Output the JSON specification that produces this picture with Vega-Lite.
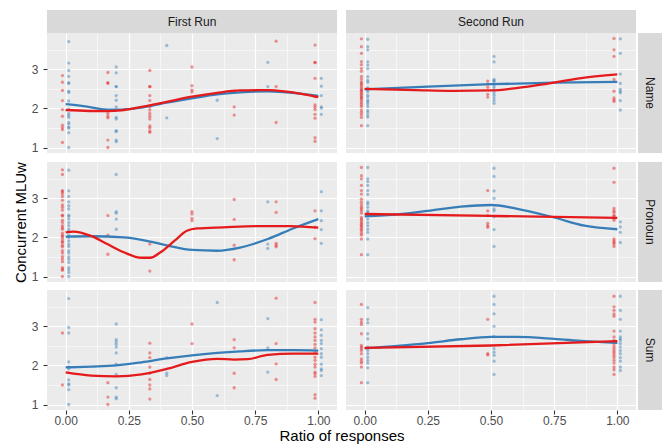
{
"$schema":"https://vega.github.io/schema/vega-lite/v6.json",
"padding":{"left":13,"top":10,"right":0,"bottom":0},
"config":{
"view":{"fill":"#EBEBEB","stroke":null},
"axis":{"gridColor":"#FFFFFF","tickColor":"#333333","labelColor":"#4D4D4D","labelFontSize":12,"labelFont":"Liberation Sans","titleFont":"Liberation Sans","titleFontSize":15,"titleFontWeight":"normal","titleColor":"#000000","tickSize":4,"tickWidth":1.1,"domain":false,"labelOverlap":false,"labelFlush":false},
"axisY":{"labelPadding":5,"titlePadding":3},
"axisX":{"labelPadding":1,"titlePadding":4},
"text":{"font":"Liberation Sans"}
},
"datasets":{
"strips":[{"label":"First Run","pos":"col1"},{"label":"Second Run","pos":"col2"},{"label":"Name","pos":"row1"},{"label":"Pronoun","pos":"row2"},{"label":"Sum","pos":"row3"},{"label":"Ratio of responses","pos":"xtitle"}],
"pts":[
{"run":1,"type":"Name","grp":"A","x":-0.013,"y":2.84},{"run":1,"type":"Name","grp":"A","x":-0.013,"y":2.67},{"run":1,"type":"Name","grp":"A","x":-0.013,"y":2.46},{"run":1,"type":"Name","grp":"A","x":-0.013,"y":2.20},{"run":1,"type":"Name","grp":"A","x":-0.013,"y":1.97},{"run":1,"type":"Name","grp":"A","x":-0.013,"y":1.80},{"run":1,"type":"Name","grp":"A","x":-0.013,"y":1.57},{"run":1,"type":"Name","grp":"A","x":-0.013,"y":1.51},{"run":1,"type":"Name","grp":"A","x":-0.013,"y":1.46},{"run":1,"type":"Name","grp":"A","x":-0.013,"y":1.13},
{"run":1,"type":"Name","grp":"A","x":0.167,"y":2.92},{"run":1,"type":"Name","grp":"A","x":0.167,"y":2.65},{"run":1,"type":"Name","grp":"A","x":0.167,"y":2.65},{"run":1,"type":"Name","grp":"A","x":0.167,"y":1.87},{"run":1,"type":"Name","grp":"A","x":0.167,"y":1.80},{"run":1,"type":"Name","grp":"A","x":0.167,"y":1.76},{"run":1,"type":"Name","grp":"A","x":0.167,"y":1.19},{"run":1,"type":"Name","grp":"A","x":0.167,"y":1.0},
{"run":1,"type":"Name","grp":"A","x":0.333,"y":2.97},{"run":1,"type":"Name","grp":"A","x":0.333,"y":2.56},{"run":1,"type":"Name","grp":"A","x":0.333,"y":2.56},{"run":1,"type":"Name","grp":"A","x":0.333,"y":2.33},{"run":1,"type":"Name","grp":"A","x":0.333,"y":2.20},{"run":1,"type":"Name","grp":"A","x":0.333,"y":2.04},{"run":1,"type":"Name","grp":"A","x":0.333,"y":1.96},{"run":1,"type":"Name","grp":"A","x":0.333,"y":1.87},{"run":1,"type":"Name","grp":"A","x":0.333,"y":1.80},{"run":1,"type":"Name","grp":"A","x":0.333,"y":1.73},{"run":1,"type":"Name","grp":"A","x":0.333,"y":1.55},{"run":1,"type":"Name","grp":"A","x":0.333,"y":1.50},{"run":1,"type":"Name","grp":"A","x":0.333,"y":1.42},{"run":1,"type":"Name","grp":"A","x":0.333,"y":1.39},
{"run":1,"type":"Name","grp":"A","x":0.5,"y":3.06},{"run":1,"type":"Name","grp":"A","x":0.5,"y":2.58},{"run":1,"type":"Name","grp":"A","x":0.5,"y":2.47},{"run":1,"type":"Name","grp":"A","x":0.5,"y":2.42},
{"run":1,"type":"Name","grp":"A","x":0.667,"y":2.44},{"run":1,"type":"Name","grp":"A","x":0.667,"y":2.04},{"run":1,"type":"Name","grp":"A","x":0.667,"y":1.83},
{"run":1,"type":"Name","grp":"A","x":0.833,"y":3.72},{"run":1,"type":"Name","grp":"A","x":0.833,"y":2.56},{"run":1,"type":"Name","grp":"A","x":0.833,"y":1.64},
{"run":1,"type":"Name","grp":"A","x":0.987,"y":3.62},{"run":1,"type":"Name","grp":"A","x":0.987,"y":3.18},{"run":1,"type":"Name","grp":"A","x":0.987,"y":3.17},{"run":1,"type":"Name","grp":"A","x":0.987,"y":2.77},{"run":1,"type":"Name","grp":"A","x":0.987,"y":2.30},{"run":1,"type":"Name","grp":"A","x":0.987,"y":2.09},{"run":1,"type":"Name","grp":"A","x":0.987,"y":2.03},{"run":1,"type":"Name","grp":"A","x":0.987,"y":1.97},{"run":1,"type":"Name","grp":"A","x":0.987,"y":1.85},{"run":1,"type":"Name","grp":"A","x":0.987,"y":1.75},{"run":1,"type":"Name","grp":"A","x":0.987,"y":1.25},{"run":1,"type":"Name","grp":"A","x":0.987,"y":1.16},
{"run":1,"type":"Name","grp":"B","x":0.012,"y":3.71},{"run":1,"type":"Name","grp":"B","x":0.012,"y":3.16},{"run":1,"type":"Name","grp":"B","x":0.012,"y":2.97},{"run":1,"type":"Name","grp":"B","x":0.012,"y":2.82},{"run":1,"type":"Name","grp":"B","x":0.012,"y":2.66},{"run":1,"type":"Name","grp":"B","x":0.012,"y":2.64},{"run":1,"type":"Name","grp":"B","x":0.012,"y":2.44},{"run":1,"type":"Name","grp":"B","x":0.012,"y":2.41},{"run":1,"type":"Name","grp":"B","x":0.012,"y":2.19},{"run":1,"type":"Name","grp":"B","x":0.012,"y":1.98},{"run":1,"type":"Name","grp":"B","x":0.012,"y":1.87},{"run":1,"type":"Name","grp":"B","x":0.012,"y":1.82},{"run":1,"type":"Name","grp":"B","x":0.012,"y":1.77},{"run":1,"type":"Name","grp":"B","x":0.012,"y":1.64},{"run":1,"type":"Name","grp":"B","x":0.012,"y":1.60},{"run":1,"type":"Name","grp":"B","x":0.012,"y":1.52},{"run":1,"type":"Name","grp":"B","x":0.012,"y":1.50},{"run":1,"type":"Name","grp":"B","x":0.012,"y":1.38},{"run":1,"type":"Name","grp":"B","x":0.012,"y":1.0},
{"run":1,"type":"Name","grp":"B","x":0.2,"y":3.06},{"run":1,"type":"Name","grp":"B","x":0.2,"y":2.91},{"run":1,"type":"Name","grp":"B","x":0.2,"y":2.56},{"run":1,"type":"Name","grp":"B","x":0.2,"y":2.56},{"run":1,"type":"Name","grp":"B","x":0.2,"y":2.33},{"run":1,"type":"Name","grp":"B","x":0.2,"y":2.21},{"run":1,"type":"Name","grp":"B","x":0.2,"y":2.04},{"run":1,"type":"Name","grp":"B","x":0.2,"y":1.77},{"run":1,"type":"Name","grp":"B","x":0.2,"y":1.73},{"run":1,"type":"Name","grp":"B","x":0.2,"y":1.43},{"run":1,"type":"Name","grp":"B","x":0.2,"y":1.41},{"run":1,"type":"Name","grp":"B","x":0.2,"y":1.19},{"run":1,"type":"Name","grp":"B","x":0.2,"y":1.15},
{"run":1,"type":"Name","grp":"B","x":0.4,"y":3.61},{"run":1,"type":"Name","grp":"B","x":0.4,"y":1.76},
{"run":1,"type":"Name","grp":"B","x":0.6,"y":2.21},{"run":1,"type":"Name","grp":"B","x":0.6,"y":1.23},
{"run":1,"type":"Name","grp":"B","x":0.8,"y":3.18},{"run":1,"type":"Name","grp":"B","x":0.8,"y":2.56},
{"run":1,"type":"Name","grp":"B","x":1.012,"y":2.77},{"run":1,"type":"Name","grp":"B","x":1.012,"y":2.57},{"run":1,"type":"Name","grp":"B","x":1.012,"y":2.33},{"run":1,"type":"Name","grp":"B","x":1.012,"y":2.04},{"run":1,"type":"Name","grp":"B","x":1.012,"y":2.01},{"run":1,"type":"Name","grp":"B","x":1.012,"y":1.85},

{"run":2,"type":"Name","grp":"A","x":-0.013,"y":3.78},{"run":2,"type":"Name","grp":"A","x":-0.013,"y":3.58},{"run":2,"type":"Name","grp":"A","x":-0.013,"y":3.41},{"run":2,"type":"Name","grp":"A","x":-0.013,"y":3.20},{"run":2,"type":"Name","grp":"A","x":-0.013,"y":3.12},{"run":2,"type":"Name","grp":"A","x":-0.013,"y":3.02},{"run":2,"type":"Name","grp":"A","x":-0.013,"y":2.95},{"run":2,"type":"Name","grp":"A","x":-0.013,"y":2.82},{"run":2,"type":"Name","grp":"A","x":-0.013,"y":2.75},{"run":2,"type":"Name","grp":"A","x":-0.013,"y":2.68},{"run":2,"type":"Name","grp":"A","x":-0.013,"y":2.64},{"run":2,"type":"Name","grp":"A","x":-0.013,"y":2.60},{"run":2,"type":"Name","grp":"A","x":-0.013,"y":2.55},{"run":2,"type":"Name","grp":"A","x":-0.013,"y":2.50},{"run":2,"type":"Name","grp":"A","x":-0.013,"y":2.47},{"run":2,"type":"Name","grp":"A","x":-0.013,"y":2.44},{"run":2,"type":"Name","grp":"A","x":-0.013,"y":2.40},{"run":2,"type":"Name","grp":"A","x":-0.013,"y":2.36},{"run":2,"type":"Name","grp":"A","x":-0.013,"y":2.32},{"run":2,"type":"Name","grp":"A","x":-0.013,"y":2.28},{"run":2,"type":"Name","grp":"A","x":-0.013,"y":2.25},{"run":2,"type":"Name","grp":"A","x":-0.013,"y":2.20},{"run":2,"type":"Name","grp":"A","x":-0.013,"y":2.15},{"run":2,"type":"Name","grp":"A","x":-0.013,"y":2.10},{"run":2,"type":"Name","grp":"A","x":-0.013,"y":2.05},{"run":2,"type":"Name","grp":"A","x":-0.013,"y":1.96},{"run":2,"type":"Name","grp":"A","x":-0.013,"y":1.90},{"run":2,"type":"Name","grp":"A","x":-0.013,"y":1.84},{"run":2,"type":"Name","grp":"A","x":-0.013,"y":1.77},{"run":2,"type":"Name","grp":"A","x":-0.013,"y":1.56},
{"run":2,"type":"Name","grp":"A","x":0.487,"y":2.70},{"run":2,"type":"Name","grp":"A","x":0.487,"y":2.62},{"run":2,"type":"Name","grp":"A","x":0.487,"y":2.54},{"run":2,"type":"Name","grp":"A","x":0.487,"y":2.36},{"run":2,"type":"Name","grp":"A","x":0.487,"y":2.29},
{"run":2,"type":"Name","grp":"A","x":0.987,"y":3.79},{"run":2,"type":"Name","grp":"A","x":0.987,"y":3.50},{"run":2,"type":"Name","grp":"A","x":0.987,"y":3.33},{"run":2,"type":"Name","grp":"A","x":0.987,"y":2.74},{"run":2,"type":"Name","grp":"A","x":0.987,"y":2.44},{"run":2,"type":"Name","grp":"A","x":0.987,"y":2.27},{"run":2,"type":"Name","grp":"A","x":0.987,"y":2.22},{"run":2,"type":"Name","grp":"A","x":0.987,"y":2.18},
{"run":2,"type":"Name","grp":"B","x":0.012,"y":3.77},{"run":2,"type":"Name","grp":"B","x":0.012,"y":3.58},{"run":2,"type":"Name","grp":"B","x":0.012,"y":3.50},{"run":2,"type":"Name","grp":"B","x":0.012,"y":3.19},{"run":2,"type":"Name","grp":"B","x":0.012,"y":3.11},{"run":2,"type":"Name","grp":"B","x":0.012,"y":3.02},{"run":2,"type":"Name","grp":"B","x":0.012,"y":2.81},{"run":2,"type":"Name","grp":"B","x":0.012,"y":2.72},{"run":2,"type":"Name","grp":"B","x":0.012,"y":2.67},{"run":2,"type":"Name","grp":"B","x":0.012,"y":2.53},{"run":2,"type":"Name","grp":"B","x":0.012,"y":2.48},{"run":2,"type":"Name","grp":"B","x":0.012,"y":2.43},{"run":2,"type":"Name","grp":"B","x":0.012,"y":2.34},{"run":2,"type":"Name","grp":"B","x":0.012,"y":2.29},{"run":2,"type":"Name","grp":"B","x":0.012,"y":2.21},{"run":2,"type":"Name","grp":"B","x":0.012,"y":2.17},{"run":2,"type":"Name","grp":"B","x":0.012,"y":2.12},{"run":2,"type":"Name","grp":"B","x":0.012,"y":2.05},{"run":2,"type":"Name","grp":"B","x":0.012,"y":1.95},{"run":2,"type":"Name","grp":"B","x":0.012,"y":1.90},{"run":2,"type":"Name","grp":"B","x":0.012,"y":1.83},{"run":2,"type":"Name","grp":"B","x":0.012,"y":1.78},{"run":2,"type":"Name","grp":"B","x":0.012,"y":1.56},
{"run":2,"type":"Name","grp":"B","x":0.512,"y":3.33},{"run":2,"type":"Name","grp":"B","x":0.512,"y":3.19},{"run":2,"type":"Name","grp":"B","x":0.512,"y":2.74},{"run":2,"type":"Name","grp":"B","x":0.512,"y":2.71},{"run":2,"type":"Name","grp":"B","x":0.512,"y":2.68},{"run":2,"type":"Name","grp":"B","x":0.512,"y":2.60},{"run":2,"type":"Name","grp":"B","x":0.512,"y":2.54},{"run":2,"type":"Name","grp":"B","x":0.512,"y":2.47},{"run":2,"type":"Name","grp":"B","x":0.512,"y":2.40},{"run":2,"type":"Name","grp":"B","x":0.512,"y":2.34},{"run":2,"type":"Name","grp":"B","x":0.512,"y":2.27},{"run":2,"type":"Name","grp":"B","x":0.512,"y":2.20},{"run":2,"type":"Name","grp":"B","x":0.512,"y":2.13},
{"run":2,"type":"Name","grp":"B","x":1.012,"y":3.78},{"run":2,"type":"Name","grp":"B","x":1.012,"y":3.41},{"run":2,"type":"Name","grp":"B","x":1.012,"y":2.88},{"run":2,"type":"Name","grp":"B","x":1.012,"y":2.64},{"run":2,"type":"Name","grp":"B","x":1.012,"y":2.49},{"run":2,"type":"Name","grp":"B","x":1.012,"y":2.44},{"run":2,"type":"Name","grp":"B","x":1.012,"y":2.40},{"run":2,"type":"Name","grp":"B","x":1.012,"y":2.20},{"run":2,"type":"Name","grp":"B","x":1.012,"y":1.96},

{"run":1,"type":"Pronoun","grp":"A","x":-0.013,"y":3.73},{"run":1,"type":"Pronoun","grp":"A","x":-0.013,"y":3.61},{"run":1,"type":"Pronoun","grp":"A","x":-0.013,"y":3.20},{"run":1,"type":"Pronoun","grp":"A","x":-0.013,"y":3.17},{"run":1,"type":"Pronoun","grp":"A","x":-0.013,"y":3.12},{"run":1,"type":"Pronoun","grp":"A","x":-0.013,"y":3.05},{"run":1,"type":"Pronoun","grp":"A","x":-0.013,"y":2.95},{"run":1,"type":"Pronoun","grp":"A","x":-0.013,"y":2.83},{"run":1,"type":"Pronoun","grp":"A","x":-0.013,"y":2.77},{"run":1,"type":"Pronoun","grp":"A","x":-0.013,"y":2.70},{"run":1,"type":"Pronoun","grp":"A","x":-0.013,"y":2.57},{"run":1,"type":"Pronoun","grp":"A","x":-0.013,"y":2.55},{"run":1,"type":"Pronoun","grp":"A","x":-0.013,"y":2.44},{"run":1,"type":"Pronoun","grp":"A","x":-0.013,"y":2.38},{"run":1,"type":"Pronoun","grp":"A","x":-0.013,"y":2.30},{"run":1,"type":"Pronoun","grp":"A","x":-0.013,"y":2.25},{"run":1,"type":"Pronoun","grp":"A","x":-0.013,"y":2.21},{"run":1,"type":"Pronoun","grp":"A","x":-0.013,"y":2.11},{"run":1,"type":"Pronoun","grp":"A","x":-0.013,"y":2.05},{"run":1,"type":"Pronoun","grp":"A","x":-0.013,"y":2.02},{"run":1,"type":"Pronoun","grp":"A","x":-0.013,"y":1.96},{"run":1,"type":"Pronoun","grp":"A","x":-0.013,"y":1.90},{"run":1,"type":"Pronoun","grp":"A","x":-0.013,"y":1.87},{"run":1,"type":"Pronoun","grp":"A","x":-0.013,"y":1.80},{"run":1,"type":"Pronoun","grp":"A","x":-0.013,"y":1.76},{"run":1,"type":"Pronoun","grp":"A","x":-0.013,"y":1.66},{"run":1,"type":"Pronoun","grp":"A","x":-0.013,"y":1.60},{"run":1,"type":"Pronoun","grp":"A","x":-0.013,"y":1.51},{"run":1,"type":"Pronoun","grp":"A","x":-0.013,"y":1.45},{"run":1,"type":"Pronoun","grp":"A","x":-0.013,"y":1.38},{"run":1,"type":"Pronoun","grp":"A","x":-0.013,"y":1.23},{"run":1,"type":"Pronoun","grp":"A","x":-0.013,"y":1.19},{"run":1,"type":"Pronoun","grp":"A","x":-0.013,"y":1.16},{"run":1,"type":"Pronoun","grp":"A","x":-0.013,"y":1.0},
{"run":1,"type":"Pronoun","grp":"A","x":0.167,"y":2.56},{"run":1,"type":"Pronoun","grp":"A","x":0.167,"y":2.06},{"run":1,"type":"Pronoun","grp":"A","x":0.167,"y":1.57},
{"run":1,"type":"Pronoun","grp":"A","x":0.333,"y":1.83},{"run":1,"type":"Pronoun","grp":"A","x":0.333,"y":1.14},
{"run":1,"type":"Pronoun","grp":"A","x":0.5,"y":2.66},{"run":1,"type":"Pronoun","grp":"A","x":0.5,"y":2.60},{"run":1,"type":"Pronoun","grp":"A","x":0.5,"y":2.49},{"run":1,"type":"Pronoun","grp":"A","x":0.5,"y":2.43},
{"run":1,"type":"Pronoun","grp":"A","x":0.667,"y":2.97},{"run":1,"type":"Pronoun","grp":"A","x":0.667,"y":2.46},{"run":1,"type":"Pronoun","grp":"A","x":0.667,"y":1.80},{"run":1,"type":"Pronoun","grp":"A","x":0.667,"y":1.43},
{"run":1,"type":"Pronoun","grp":"A","x":0.833,"y":2.91},{"run":1,"type":"Pronoun","grp":"A","x":0.833,"y":2.64},{"run":1,"type":"Pronoun","grp":"A","x":0.833,"y":1.85},{"run":1,"type":"Pronoun","grp":"A","x":0.833,"y":1.80},{"run":1,"type":"Pronoun","grp":"A","x":0.833,"y":1.76},
{"run":1,"type":"Pronoun","grp":"A","x":0.987,"y":2.68},{"run":1,"type":"Pronoun","grp":"A","x":0.987,"y":2.26},{"run":1,"type":"Pronoun","grp":"A","x":0.987,"y":1.97},
{"run":1,"type":"Pronoun","grp":"B","x":0.012,"y":3.72},{"run":1,"type":"Pronoun","grp":"B","x":0.012,"y":3.19},{"run":1,"type":"Pronoun","grp":"B","x":0.012,"y":3.05},{"run":1,"type":"Pronoun","grp":"B","x":0.012,"y":2.91},{"run":1,"type":"Pronoun","grp":"B","x":0.012,"y":2.81},{"run":1,"type":"Pronoun","grp":"B","x":0.012,"y":2.73},{"run":1,"type":"Pronoun","grp":"B","x":0.012,"y":2.57},{"run":1,"type":"Pronoun","grp":"B","x":0.012,"y":2.54},{"run":1,"type":"Pronoun","grp":"B","x":0.012,"y":2.47},{"run":1,"type":"Pronoun","grp":"B","x":0.012,"y":2.38},{"run":1,"type":"Pronoun","grp":"B","x":0.012,"y":2.30},{"run":1,"type":"Pronoun","grp":"B","x":0.012,"y":2.21},{"run":1,"type":"Pronoun","grp":"B","x":0.012,"y":2.15},{"run":1,"type":"Pronoun","grp":"B","x":0.012,"y":2.06},{"run":1,"type":"Pronoun","grp":"B","x":0.012,"y":2.0},{"run":1,"type":"Pronoun","grp":"B","x":0.012,"y":1.91},{"run":1,"type":"Pronoun","grp":"B","x":0.012,"y":1.83},{"run":1,"type":"Pronoun","grp":"B","x":0.012,"y":1.77},{"run":1,"type":"Pronoun","grp":"B","x":0.012,"y":1.66},{"run":1,"type":"Pronoun","grp":"B","x":0.012,"y":1.60},{"run":1,"type":"Pronoun","grp":"B","x":0.012,"y":1.50},{"run":1,"type":"Pronoun","grp":"B","x":0.012,"y":1.44},{"run":1,"type":"Pronoun","grp":"B","x":0.012,"y":1.36},{"run":1,"type":"Pronoun","grp":"B","x":0.012,"y":1.23},{"run":1,"type":"Pronoun","grp":"B","x":0.012,"y":1.17},{"run":1,"type":"Pronoun","grp":"B","x":0.012,"y":1.10},{"run":1,"type":"Pronoun","grp":"B","x":0.012,"y":1.0},
{"run":1,"type":"Pronoun","grp":"B","x":0.2,"y":3.61},{"run":1,"type":"Pronoun","grp":"B","x":0.2,"y":2.66},{"run":1,"type":"Pronoun","grp":"B","x":0.2,"y":2.62},{"run":1,"type":"Pronoun","grp":"B","x":0.2,"y":2.47},{"run":1,"type":"Pronoun","grp":"B","x":0.2,"y":2.21},
{"run":1,"type":"Pronoun","grp":"B","x":0.8,"y":2.91},{"run":1,"type":"Pronoun","grp":"B","x":0.8,"y":1.83},{"run":1,"type":"Pronoun","grp":"B","x":0.8,"y":1.72},
{"run":1,"type":"Pronoun","grp":"B","x":1.012,"y":3.17},{"run":1,"type":"Pronoun","grp":"B","x":1.012,"y":2.68},{"run":1,"type":"Pronoun","grp":"B","x":1.012,"y":2.43},{"run":1,"type":"Pronoun","grp":"B","x":1.012,"y":2.20},{"run":1,"type":"Pronoun","grp":"B","x":1.012,"y":1.85},

{"run":2,"type":"Pronoun","grp":"A","x":-0.013,"y":3.79},{"run":2,"type":"Pronoun","grp":"A","x":-0.013,"y":3.58},{"run":2,"type":"Pronoun","grp":"A","x":-0.013,"y":3.50},{"run":2,"type":"Pronoun","grp":"A","x":-0.013,"y":3.33},{"run":2,"type":"Pronoun","grp":"A","x":-0.013,"y":3.20},{"run":2,"type":"Pronoun","grp":"A","x":-0.013,"y":3.11},{"run":2,"type":"Pronoun","grp":"A","x":-0.013,"y":2.98},{"run":2,"type":"Pronoun","grp":"A","x":-0.013,"y":2.90},{"run":2,"type":"Pronoun","grp":"A","x":-0.013,"y":2.83},{"run":2,"type":"Pronoun","grp":"A","x":-0.013,"y":2.77},{"run":2,"type":"Pronoun","grp":"A","x":-0.013,"y":2.73},{"run":2,"type":"Pronoun","grp":"A","x":-0.013,"y":2.68},{"run":2,"type":"Pronoun","grp":"A","x":-0.013,"y":2.62},{"run":2,"type":"Pronoun","grp":"A","x":-0.013,"y":2.51},{"run":2,"type":"Pronoun","grp":"A","x":-0.013,"y":2.47},{"run":2,"type":"Pronoun","grp":"A","x":-0.013,"y":2.43},{"run":2,"type":"Pronoun","grp":"A","x":-0.013,"y":2.38},{"run":2,"type":"Pronoun","grp":"A","x":-0.013,"y":2.34},{"run":2,"type":"Pronoun","grp":"A","x":-0.013,"y":2.30},{"run":2,"type":"Pronoun","grp":"A","x":-0.013,"y":2.26},{"run":2,"type":"Pronoun","grp":"A","x":-0.013,"y":2.21},{"run":2,"type":"Pronoun","grp":"A","x":-0.013,"y":2.17},{"run":2,"type":"Pronoun","grp":"A","x":-0.013,"y":2.11},{"run":2,"type":"Pronoun","grp":"A","x":-0.013,"y":2.06},{"run":2,"type":"Pronoun","grp":"A","x":-0.013,"y":1.96},{"run":2,"type":"Pronoun","grp":"A","x":-0.013,"y":1.56},
{"run":2,"type":"Pronoun","grp":"A","x":0.487,"y":3.20},{"run":2,"type":"Pronoun","grp":"A","x":0.487,"y":2.68},{"run":2,"type":"Pronoun","grp":"A","x":0.487,"y":2.56},{"run":2,"type":"Pronoun","grp":"A","x":0.487,"y":2.36},{"run":2,"type":"Pronoun","grp":"A","x":0.487,"y":2.30},{"run":2,"type":"Pronoun","grp":"A","x":0.487,"y":2.26},
{"run":2,"type":"Pronoun","grp":"A","x":0.987,"y":3.77},{"run":2,"type":"Pronoun","grp":"A","x":0.987,"y":3.41},{"run":2,"type":"Pronoun","grp":"A","x":0.987,"y":2.74},{"run":2,"type":"Pronoun","grp":"A","x":0.987,"y":2.68},{"run":2,"type":"Pronoun","grp":"A","x":0.987,"y":2.64},{"run":2,"type":"Pronoun","grp":"A","x":0.987,"y":2.57},{"run":2,"type":"Pronoun","grp":"A","x":0.987,"y":2.54},{"run":2,"type":"Pronoun","grp":"A","x":0.987,"y":2.49},{"run":2,"type":"Pronoun","grp":"A","x":0.987,"y":2.44},{"run":2,"type":"Pronoun","grp":"A","x":0.987,"y":1.96},{"run":2,"type":"Pronoun","grp":"A","x":0.987,"y":1.91},{"run":2,"type":"Pronoun","grp":"A","x":0.987,"y":1.87},{"run":2,"type":"Pronoun","grp":"A","x":0.987,"y":1.83},{"run":2,"type":"Pronoun","grp":"A","x":0.987,"y":1.77},
{"run":2,"type":"Pronoun","grp":"B","x":0.012,"y":3.79},{"run":2,"type":"Pronoun","grp":"B","x":0.012,"y":3.50},{"run":2,"type":"Pronoun","grp":"B","x":0.012,"y":3.43},{"run":2,"type":"Pronoun","grp":"B","x":0.012,"y":3.33},{"run":2,"type":"Pronoun","grp":"B","x":0.012,"y":3.20},{"run":2,"type":"Pronoun","grp":"B","x":0.012,"y":3.10},{"run":2,"type":"Pronoun","grp":"B","x":0.012,"y":2.90},{"run":2,"type":"Pronoun","grp":"B","x":0.012,"y":2.85},{"run":2,"type":"Pronoun","grp":"B","x":0.012,"y":2.77},{"run":2,"type":"Pronoun","grp":"B","x":0.012,"y":2.68},{"run":2,"type":"Pronoun","grp":"B","x":0.012,"y":2.64},{"run":2,"type":"Pronoun","grp":"B","x":0.012,"y":2.60},{"run":2,"type":"Pronoun","grp":"B","x":0.012,"y":2.56},{"run":2,"type":"Pronoun","grp":"B","x":0.012,"y":2.47},{"run":2,"type":"Pronoun","grp":"B","x":0.012,"y":2.38},{"run":2,"type":"Pronoun","grp":"B","x":0.012,"y":2.30},{"run":2,"type":"Pronoun","grp":"B","x":0.012,"y":2.21},{"run":2,"type":"Pronoun","grp":"B","x":0.012,"y":2.13},{"run":2,"type":"Pronoun","grp":"B","x":0.012,"y":1.96},{"run":2,"type":"Pronoun","grp":"B","x":0.012,"y":1.56},
{"run":2,"type":"Pronoun","grp":"B","x":0.512,"y":3.77},{"run":2,"type":"Pronoun","grp":"B","x":0.512,"y":3.56},{"run":2,"type":"Pronoun","grp":"B","x":0.512,"y":3.19},{"run":2,"type":"Pronoun","grp":"B","x":0.512,"y":3.0},{"run":2,"type":"Pronoun","grp":"B","x":0.512,"y":2.73},{"run":2,"type":"Pronoun","grp":"B","x":0.512,"y":2.68},{"run":2,"type":"Pronoun","grp":"B","x":0.512,"y":2.53},{"run":2,"type":"Pronoun","grp":"B","x":0.512,"y":2.20},{"run":2,"type":"Pronoun","grp":"B","x":0.512,"y":1.77},
{"run":2,"type":"Pronoun","grp":"B","x":1.012,"y":2.40},{"run":2,"type":"Pronoun","grp":"B","x":1.012,"y":2.27},{"run":2,"type":"Pronoun","grp":"B","x":1.012,"y":2.13},{"run":2,"type":"Pronoun","grp":"B","x":1.012,"y":1.87},

{"run":1,"type":"Sum","grp":"A","x":-0.013,"y":2.83},{"run":1,"type":"Sum","grp":"A","x":-0.013,"y":1.50},
{"run":1,"type":"Sum","grp":"A","x":0.167,"y":1.56},{"run":1,"type":"Sum","grp":"A","x":0.167,"y":1.19},{"run":1,"type":"Sum","grp":"A","x":0.167,"y":1.0},
{"run":1,"type":"Sum","grp":"A","x":0.333,"y":2.57},{"run":1,"type":"Sum","grp":"A","x":0.333,"y":2.32},{"run":1,"type":"Sum","grp":"A","x":0.333,"y":2.20},{"run":1,"type":"Sum","grp":"A","x":0.333,"y":1.96},{"run":1,"type":"Sum","grp":"A","x":0.333,"y":1.80},{"run":1,"type":"Sum","grp":"A","x":0.333,"y":1.64},{"run":1,"type":"Sum","grp":"A","x":0.333,"y":1.50},{"run":1,"type":"Sum","grp":"A","x":0.333,"y":1.40},{"run":1,"type":"Sum","grp":"A","x":0.333,"y":1.14},
{"run":1,"type":"Sum","grp":"A","x":0.5,"y":3.06},{"run":1,"type":"Sum","grp":"A","x":0.5,"y":2.56},
{"run":1,"type":"Sum","grp":"A","x":0.667,"y":2.66},{"run":1,"type":"Sum","grp":"A","x":0.667,"y":2.45},{"run":1,"type":"Sum","grp":"A","x":0.667,"y":1.80},{"run":1,"type":"Sum","grp":"A","x":0.667,"y":1.43},
{"run":1,"type":"Sum","grp":"A","x":0.833,"y":3.72},{"run":1,"type":"Sum","grp":"A","x":0.833,"y":2.56},{"run":1,"type":"Sum","grp":"A","x":0.833,"y":2.04},{"run":1,"type":"Sum","grp":"A","x":0.833,"y":1.64},
{"run":1,"type":"Sum","grp":"A","x":0.987,"y":3.61},{"run":1,"type":"Sum","grp":"A","x":0.987,"y":3.18},{"run":1,"type":"Sum","grp":"A","x":0.987,"y":3.11},{"run":1,"type":"Sum","grp":"A","x":0.987,"y":2.94},{"run":1,"type":"Sum","grp":"A","x":0.987,"y":2.83},{"run":1,"type":"Sum","grp":"A","x":0.987,"y":2.73},{"run":1,"type":"Sum","grp":"A","x":0.987,"y":2.64},{"run":1,"type":"Sum","grp":"A","x":0.987,"y":2.54},{"run":1,"type":"Sum","grp":"A","x":0.987,"y":2.45},{"run":1,"type":"Sum","grp":"A","x":0.987,"y":2.33},{"run":1,"type":"Sum","grp":"A","x":0.987,"y":2.21},{"run":1,"type":"Sum","grp":"A","x":0.987,"y":2.13},{"run":1,"type":"Sum","grp":"A","x":0.987,"y":2.03},{"run":1,"type":"Sum","grp":"A","x":0.987,"y":1.96},{"run":1,"type":"Sum","grp":"A","x":0.987,"y":1.83},{"run":1,"type":"Sum","grp":"A","x":0.987,"y":1.79},{"run":1,"type":"Sum","grp":"A","x":0.987,"y":1.72},{"run":1,"type":"Sum","grp":"A","x":0.987,"y":1.25},{"run":1,"type":"Sum","grp":"A","x":0.987,"y":1.16},
{"run":1,"type":"Sum","grp":"B","x":0.012,"y":3.71},{"run":1,"type":"Sum","grp":"B","x":0.012,"y":2.97},{"run":1,"type":"Sum","grp":"B","x":0.012,"y":2.83},{"run":1,"type":"Sum","grp":"B","x":0.012,"y":2.09},{"run":1,"type":"Sum","grp":"B","x":0.012,"y":1.96},{"run":1,"type":"Sum","grp":"B","x":0.012,"y":1.91},{"run":1,"type":"Sum","grp":"B","x":0.012,"y":1.63},{"run":1,"type":"Sum","grp":"B","x":0.012,"y":1.53},{"run":1,"type":"Sum","grp":"B","x":0.012,"y":1.50},{"run":1,"type":"Sum","grp":"B","x":0.012,"y":1.38},{"run":1,"type":"Sum","grp":"B","x":0.012,"y":1.0},
{"run":1,"type":"Sum","grp":"B","x":0.2,"y":3.06},{"run":1,"type":"Sum","grp":"B","x":0.2,"y":2.66},{"run":1,"type":"Sum","grp":"B","x":0.2,"y":2.60},{"run":1,"type":"Sum","grp":"B","x":0.2,"y":2.54},{"run":1,"type":"Sum","grp":"B","x":0.2,"y":2.47},{"run":1,"type":"Sum","grp":"B","x":0.2,"y":2.32},{"run":1,"type":"Sum","grp":"B","x":0.2,"y":2.03},{"run":1,"type":"Sum","grp":"B","x":0.2,"y":1.77},{"run":1,"type":"Sum","grp":"B","x":0.2,"y":1.43},{"run":1,"type":"Sum","grp":"B","x":0.2,"y":1.19},{"run":1,"type":"Sum","grp":"B","x":0.2,"y":1.15},
{"run":1,"type":"Sum","grp":"B","x":0.4,"y":2.20},{"run":1,"type":"Sum","grp":"B","x":0.4,"y":1.80},{"run":1,"type":"Sum","grp":"B","x":0.4,"y":1.74},
{"run":1,"type":"Sum","grp":"B","x":0.6,"y":3.61},{"run":1,"type":"Sum","grp":"B","x":0.6,"y":1.23},
{"run":1,"type":"Sum","grp":"B","x":0.8,"y":3.20},{"run":1,"type":"Sum","grp":"B","x":0.8,"y":2.45},{"run":1,"type":"Sum","grp":"B","x":0.8,"y":1.83},
{"run":1,"type":"Sum","grp":"B","x":1.012,"y":3.17},{"run":1,"type":"Sum","grp":"B","x":1.012,"y":2.91},{"run":1,"type":"Sum","grp":"B","x":1.012,"y":2.77},{"run":1,"type":"Sum","grp":"B","x":1.012,"y":2.64},{"run":1,"type":"Sum","grp":"B","x":1.012,"y":2.56},{"run":1,"type":"Sum","grp":"B","x":1.012,"y":2.43},{"run":1,"type":"Sum","grp":"B","x":1.012,"y":2.30},{"run":1,"type":"Sum","grp":"B","x":1.012,"y":2.21},{"run":1,"type":"Sum","grp":"B","x":1.012,"y":2.03},{"run":1,"type":"Sum","grp":"B","x":1.012,"y":1.91},{"run":1,"type":"Sum","grp":"B","x":1.012,"y":1.87},{"run":1,"type":"Sum","grp":"B","x":1.012,"y":1.74},

{"run":2,"type":"Sum","grp":"A","x":-0.013,"y":3.56},{"run":2,"type":"Sum","grp":"A","x":-0.013,"y":3.18},{"run":2,"type":"Sum","grp":"A","x":-0.013,"y":3.11},{"run":2,"type":"Sum","grp":"A","x":-0.013,"y":3.05},{"run":2,"type":"Sum","grp":"A","x":-0.013,"y":2.81},{"run":2,"type":"Sum","grp":"A","x":-0.013,"y":2.51},{"run":2,"type":"Sum","grp":"A","x":-0.013,"y":2.47},{"run":2,"type":"Sum","grp":"A","x":-0.013,"y":2.43},{"run":2,"type":"Sum","grp":"A","x":-0.013,"y":2.38},{"run":2,"type":"Sum","grp":"A","x":-0.013,"y":2.30},{"run":2,"type":"Sum","grp":"A","x":-0.013,"y":2.17},{"run":2,"type":"Sum","grp":"A","x":-0.013,"y":2.11},{"run":2,"type":"Sum","grp":"A","x":-0.013,"y":2.06},{"run":2,"type":"Sum","grp":"A","x":-0.013,"y":1.96},{"run":2,"type":"Sum","grp":"A","x":-0.013,"y":1.56},
{"run":2,"type":"Sum","grp":"A","x":0.487,"y":3.18},{"run":2,"type":"Sum","grp":"A","x":0.487,"y":2.30},{"run":2,"type":"Sum","grp":"A","x":0.487,"y":2.27},
{"run":2,"type":"Sum","grp":"A","x":0.987,"y":3.77},{"run":2,"type":"Sum","grp":"A","x":0.987,"y":3.50},{"run":2,"type":"Sum","grp":"A","x":0.987,"y":3.41},{"run":2,"type":"Sum","grp":"A","x":0.987,"y":3.32},{"run":2,"type":"Sum","grp":"A","x":0.987,"y":3.26},{"run":2,"type":"Sum","grp":"A","x":0.987,"y":2.88},{"run":2,"type":"Sum","grp":"A","x":0.987,"y":2.73},{"run":2,"type":"Sum","grp":"A","x":0.987,"y":2.64},{"run":2,"type":"Sum","grp":"A","x":0.987,"y":2.60},{"run":2,"type":"Sum","grp":"A","x":0.987,"y":2.56},{"run":2,"type":"Sum","grp":"A","x":0.987,"y":2.49},{"run":2,"type":"Sum","grp":"A","x":0.987,"y":2.43},{"run":2,"type":"Sum","grp":"A","x":0.987,"y":2.37},{"run":2,"type":"Sum","grp":"A","x":0.987,"y":2.32},{"run":2,"type":"Sum","grp":"A","x":0.987,"y":2.26},{"run":2,"type":"Sum","grp":"A","x":0.987,"y":2.20},{"run":2,"type":"Sum","grp":"A","x":0.987,"y":2.13},{"run":2,"type":"Sum","grp":"A","x":0.987,"y":2.06},{"run":2,"type":"Sum","grp":"A","x":0.987,"y":1.96},{"run":2,"type":"Sum","grp":"A","x":0.987,"y":1.89},{"run":2,"type":"Sum","grp":"A","x":0.987,"y":1.77},
{"run":2,"type":"Sum","grp":"B","x":0.012,"y":3.48},{"run":2,"type":"Sum","grp":"B","x":0.012,"y":3.18},{"run":2,"type":"Sum","grp":"B","x":0.012,"y":3.09},{"run":2,"type":"Sum","grp":"B","x":0.012,"y":2.81},{"run":2,"type":"Sum","grp":"B","x":0.012,"y":2.68},{"run":2,"type":"Sum","grp":"B","x":0.012,"y":2.47},{"run":2,"type":"Sum","grp":"B","x":0.012,"y":2.38},{"run":2,"type":"Sum","grp":"B","x":0.012,"y":2.30},{"run":2,"type":"Sum","grp":"B","x":0.012,"y":2.21},{"run":2,"type":"Sum","grp":"B","x":0.012,"y":2.13},{"run":2,"type":"Sum","grp":"B","x":0.012,"y":2.06},{"run":2,"type":"Sum","grp":"B","x":0.012,"y":1.94},{"run":2,"type":"Sum","grp":"B","x":0.012,"y":1.56},
{"run":2,"type":"Sum","grp":"B","x":0.512,"y":3.77},{"run":2,"type":"Sum","grp":"B","x":0.512,"y":3.56},{"run":2,"type":"Sum","grp":"B","x":0.512,"y":3.32},{"run":2,"type":"Sum","grp":"B","x":0.512,"y":3.0},{"run":2,"type":"Sum","grp":"B","x":0.512,"y":2.74},{"run":2,"type":"Sum","grp":"B","x":0.512,"y":2.43},{"run":2,"type":"Sum","grp":"B","x":0.512,"y":2.34},{"run":2,"type":"Sum","grp":"B","x":0.512,"y":2.26},{"run":2,"type":"Sum","grp":"B","x":0.512,"y":2.11},{"run":2,"type":"Sum","grp":"B","x":0.512,"y":1.77},
{"run":2,"type":"Sum","grp":"B","x":1.012,"y":3.77},{"run":2,"type":"Sum","grp":"B","x":1.012,"y":3.41},{"run":2,"type":"Sum","grp":"B","x":1.012,"y":3.18},{"run":2,"type":"Sum","grp":"B","x":1.012,"y":2.88},{"run":2,"type":"Sum","grp":"B","x":1.012,"y":2.73},{"run":2,"type":"Sum","grp":"B","x":1.012,"y":2.68},{"run":2,"type":"Sum","grp":"B","x":1.012,"y":2.64},{"run":2,"type":"Sum","grp":"B","x":1.012,"y":2.56},{"run":2,"type":"Sum","grp":"B","x":1.012,"y":2.47},{"run":2,"type":"Sum","grp":"B","x":1.012,"y":2.38},{"run":2,"type":"Sum","grp":"B","x":1.012,"y":2.30},{"run":2,"type":"Sum","grp":"B","x":1.012,"y":2.20},{"run":2,"type":"Sum","grp":"B","x":1.012,"y":2.11},{"run":2,"type":"Sum","grp":"B","x":1.012,"y":1.96},{"run":2,"type":"Sum","grp":"B","x":1.012,"y":1.87}
],
"fit":[
{"run":1,"type":"Name","grp":"B","x":0,"y":2.11},{"run":1,"type":"Name","grp":"B","x":0.07,"y":2.06},{"run":1,"type":"Name","grp":"B","x":0.165,"y":1.97},{"run":1,"type":"Name","grp":"B","x":0.22,"y":1.97},{"run":1,"type":"Name","grp":"B","x":0.3,"y":2.02},{"run":1,"type":"Name","grp":"B","x":0.4,"y":2.15},{"run":1,"type":"Name","grp":"B","x":0.5,"y":2.26},{"run":1,"type":"Name","grp":"B","x":0.6,"y":2.36},{"run":1,"type":"Name","grp":"B","x":0.69,"y":2.41},{"run":1,"type":"Name","grp":"B","x":0.8,"y":2.44},{"run":1,"type":"Name","grp":"B","x":0.875,"y":2.41},{"run":1,"type":"Name","grp":"B","x":1,"y":2.32},
{"run":1,"type":"Name","grp":"A","x":0,"y":1.96},{"run":1,"type":"Name","grp":"A","x":0.165,"y":1.93},{"run":1,"type":"Name","grp":"A","x":0.22,"y":1.95},{"run":1,"type":"Name","grp":"A","x":0.3,"y":2.04},{"run":1,"type":"Name","grp":"A","x":0.4,"y":2.17},{"run":1,"type":"Name","grp":"A","x":0.5,"y":2.30},{"run":1,"type":"Name","grp":"A","x":0.6,"y":2.40},{"run":1,"type":"Name","grp":"A","x":0.69,"y":2.46},{"run":1,"type":"Name","grp":"A","x":0.8,"y":2.47},{"run":1,"type":"Name","grp":"A","x":0.875,"y":2.43},{"run":1,"type":"Name","grp":"A","x":1,"y":2.29},
{"run":2,"type":"Name","grp":"B","x":0,"y":2.49},{"run":2,"type":"Name","grp":"B","x":0.25,"y":2.56},{"run":2,"type":"Name","grp":"B","x":0.5,"y":2.62},{"run":2,"type":"Name","grp":"B","x":0.75,"y":2.66},{"run":2,"type":"Name","grp":"B","x":1,"y":2.68},
{"run":2,"type":"Name","grp":"A","x":0,"y":2.50},{"run":2,"type":"Name","grp":"A","x":0.2,"y":2.47},{"run":2,"type":"Name","grp":"A","x":0.35,"y":2.45},{"run":2,"type":"Name","grp":"A","x":0.5,"y":2.46},{"run":2,"type":"Name","grp":"A","x":0.6,"y":2.52},{"run":2,"type":"Name","grp":"A","x":0.72,"y":2.63},{"run":2,"type":"Name","grp":"A","x":0.85,"y":2.77},{"run":2,"type":"Name","grp":"A","x":1,"y":2.87},
{"run":1,"type":"Pronoun","grp":"B","x":0,"y":2.02},{"run":1,"type":"Pronoun","grp":"B","x":0.1,"y":2.03},{"run":1,"type":"Pronoun","grp":"B","x":0.23,"y":2.0},{"run":1,"type":"Pronoun","grp":"B","x":0.3,"y":1.94},{"run":1,"type":"Pronoun","grp":"B","x":0.4,"y":1.80},{"run":1,"type":"Pronoun","grp":"B","x":0.5,"y":1.68},{"run":1,"type":"Pronoun","grp":"B","x":0.6,"y":1.66},{"run":1,"type":"Pronoun","grp":"B","x":0.69,"y":1.74},{"run":1,"type":"Pronoun","grp":"B","x":0.8,"y":1.96},{"run":1,"type":"Pronoun","grp":"B","x":0.9,"y":2.23},{"run":1,"type":"Pronoun","grp":"B","x":1,"y":2.47},
{"run":1,"type":"Pronoun","grp":"A","x":0,"y":2.13},{"run":1,"type":"Pronoun","grp":"A","x":0.03,"y":2.15},{"run":1,"type":"Pronoun","grp":"A","x":0.1,"y":2.04},{"run":1,"type":"Pronoun","grp":"A","x":0.165,"y":1.83},{"run":1,"type":"Pronoun","grp":"A","x":0.23,"y":1.62},{"run":1,"type":"Pronoun","grp":"A","x":0.3,"y":1.48},{"run":1,"type":"Pronoun","grp":"A","x":0.335,"y":1.48},{"run":1,"type":"Pronoun","grp":"A","x":0.375,"y":1.62},{"run":1,"type":"Pronoun","grp":"A","x":0.43,"y":1.91},{"run":1,"type":"Pronoun","grp":"A","x":0.48,"y":2.17},{"run":1,"type":"Pronoun","grp":"A","x":0.52,"y":2.23},{"run":1,"type":"Pronoun","grp":"A","x":0.625,"y":2.26},{"run":1,"type":"Pronoun","grp":"A","x":0.76,"y":2.29},{"run":1,"type":"Pronoun","grp":"A","x":0.89,"y":2.29},{"run":1,"type":"Pronoun","grp":"A","x":1,"y":2.25},
{"run":2,"type":"Pronoun","grp":"B","x":0,"y":2.54},{"run":2,"type":"Pronoun","grp":"B","x":0.13,"y":2.59},{"run":2,"type":"Pronoun","grp":"B","x":0.25,"y":2.68},{"run":2,"type":"Pronoun","grp":"B","x":0.38,"y":2.79},{"run":2,"type":"Pronoun","grp":"B","x":0.5,"y":2.83},{"run":2,"type":"Pronoun","grp":"B","x":0.6,"y":2.74},{"run":2,"type":"Pronoun","grp":"B","x":0.75,"y":2.51},{"run":2,"type":"Pronoun","grp":"B","x":0.87,"y":2.30},{"run":2,"type":"Pronoun","grp":"B","x":1,"y":2.21},
{"run":2,"type":"Pronoun","grp":"A","x":0,"y":2.60},{"run":2,"type":"Pronoun","grp":"A","x":0.5,"y":2.55},{"run":2,"type":"Pronoun","grp":"A","x":1,"y":2.50},
{"run":1,"type":"Sum","grp":"B","x":0,"y":1.95},{"run":1,"type":"Sum","grp":"B","x":0.1,"y":1.97},{"run":1,"type":"Sum","grp":"B","x":0.2,"y":2.0},{"run":1,"type":"Sum","grp":"B","x":0.3,"y":2.08},{"run":1,"type":"Sum","grp":"B","x":0.4,"y":2.18},{"run":1,"type":"Sum","grp":"B","x":0.5,"y":2.26},{"run":1,"type":"Sum","grp":"B","x":0.6,"y":2.32},{"run":1,"type":"Sum","grp":"B","x":0.69,"y":2.36},{"run":1,"type":"Sum","grp":"B","x":0.8,"y":2.39},{"run":1,"type":"Sum","grp":"B","x":0.9,"y":2.39},{"run":1,"type":"Sum","grp":"B","x":1,"y":2.38},
{"run":1,"type":"Sum","grp":"A","x":0,"y":1.82},{"run":1,"type":"Sum","grp":"A","x":0.1,"y":1.74},{"run":1,"type":"Sum","grp":"A","x":0.2,"y":1.72},{"run":1,"type":"Sum","grp":"A","x":0.3,"y":1.77},{"run":1,"type":"Sum","grp":"A","x":0.4,"y":1.91},{"run":1,"type":"Sum","grp":"A","x":0.5,"y":2.09},{"run":1,"type":"Sum","grp":"A","x":0.6,"y":2.17},{"run":1,"type":"Sum","grp":"A","x":0.667,"y":2.15},{"run":1,"type":"Sum","grp":"A","x":0.72,"y":2.16},{"run":1,"type":"Sum","grp":"A","x":0.8,"y":2.27},{"run":1,"type":"Sum","grp":"A","x":0.9,"y":2.30},{"run":1,"type":"Sum","grp":"A","x":1,"y":2.30},
{"run":2,"type":"Sum","grp":"B","x":0,"y":2.44},{"run":2,"type":"Sum","grp":"B","x":0.13,"y":2.50},{"run":2,"type":"Sum","grp":"B","x":0.25,"y":2.57},{"run":2,"type":"Sum","grp":"B","x":0.38,"y":2.67},{"run":2,"type":"Sum","grp":"B","x":0.5,"y":2.73},{"run":2,"type":"Sum","grp":"B","x":0.6,"y":2.73},{"run":2,"type":"Sum","grp":"B","x":0.75,"y":2.68},{"run":2,"type":"Sum","grp":"B","x":0.87,"y":2.62},{"run":2,"type":"Sum","grp":"B","x":1,"y":2.58},
{"run":2,"type":"Sum","grp":"A","x":0,"y":2.45},{"run":2,"type":"Sum","grp":"A","x":0.5,"y":2.51},{"run":2,"type":"Sum","grp":"A","x":1,"y":2.62}
]
},
"vconcat":[
{"vconcat":[
 {"hconcat":[
  {"data":{"name":"strips"},"transform":[{"filter":"datum.pos=='col1'"}],"width":290,"height":23,"view":{"fill":"#D9D9D9","stroke":null},"mark":{"type":"text","fontSize":12,"color":"#1A1A1A"},"encoding":{"text":{"field":"label"}}},
  {"data":{"name":"strips"},"transform":[{"filter":"datum.pos=='col2'"}],"width":290,"height":23,"view":{"fill":"#D9D9D9","stroke":null},"mark":{"type":"text","fontSize":12,"color":"#1A1A1A"},"encoding":{"text":{"field":"label"}}}
 ],"spacing":9},
 {"hconcat":[
  {"width":290,"height":120,
   "encoding":{
    "x":{"field":"x","type":"quantitative","scale":{"domain":[-0.074,1.074],"nice":false,"zero":false},"axis":{"values":[0,0.125,0.25,0.375,0.5,0.625,0.75,0.875,1],"labels":false,"ticks":false,"title":null,"gridWidth":{"condition":{"test":"(datum.value*4)%1!=0","value":0.55},"value":1.2}}},
    "y":{"field":"y","type":"quantitative","scale":{"domain":[0.86,3.93],"nice":false,"zero":false},"axis":{"values":[1,1.5,2,2.5,3,3.5],"labelExpr":"datum.value%1!=0 ? '' : format(datum.value,'d')","tickOpacity":{"condition":{"test":"datum.value%1!=0","value":0},"value":1},"title":null,"gridWidth":{"condition":{"test":"datum.value%1!=0","value":0.55},"value":1.2}}},
    "color":{"field":"grp","type":"nominal","scale":{"domain":["A","B"],"range":["#E41A1C","#377EB8"]},"legend":null}},
   "layer":[
    {"data":{"name":"pts"},"transform":[{"filter":"datum.run==1 && datum.type=='Name'"}],"mark":{"type":"circle","size":11,"opacity":0.45}},
    {"data":{"name":"fit"},"transform":[{"filter":"datum.run==1 && datum.type=='Name'"}],"mark":{"type":"line","strokeWidth":2.3,"interpolate":"monotone"}}
   ]},
  {"hconcat":[
   {"width":290,"height":120,
    "encoding":{
     "x":{"field":"x","type":"quantitative","scale":{"domain":[-0.074,1.074],"nice":false,"zero":false},"axis":{"values":[0,0.125,0.25,0.375,0.5,0.625,0.75,0.875,1],"labels":false,"ticks":false,"title":null,"gridWidth":{"condition":{"test":"(datum.value*4)%1!=0","value":0.55},"value":1.2}}},
     "y":{"field":"y","type":"quantitative","scale":{"domain":[0.86,3.93],"nice":false,"zero":false},"axis":{"values":[1,1.5,2,2.5,3,3.5],"labels":false,"ticks":false,"title":null,"gridWidth":{"condition":{"test":"datum.value%1!=0","value":0.55},"value":1.2}}},
     "color":{"field":"grp","type":"nominal","scale":{"domain":["A","B"],"range":["#E41A1C","#377EB8"]},"legend":null}},
    "layer":[
     {"data":{"name":"pts"},"transform":[{"filter":"datum.run==2 && datum.type=='Name'"}],"mark":{"type":"circle","size":11,"opacity":0.45}},
     {"data":{"name":"fit"},"transform":[{"filter":"datum.run==2 && datum.type=='Name'"}],"mark":{"type":"line","strokeWidth":2.3,"interpolate":"monotone"}}
    ]},
   {"data":{"name":"strips"},"transform":[{"filter":"datum.pos=='row1'"}],"width":24,"height":120,"view":{"fill":"#D9D9D9","stroke":null},"mark":{"type":"text","fontSize":12,"color":"#1A1A1A","angle":90},"encoding":{"text":{"field":"label"}}}
  ],"spacing":2}
 ],"spacing":9}
],"spacing":0},
{"hconcat":[
  {"width":290,"height":120,
   "encoding":{
    "x":{"field":"x","type":"quantitative","scale":{"domain":[-0.074,1.074],"nice":false,"zero":false},"axis":{"values":[0,0.125,0.25,0.375,0.5,0.625,0.75,0.875,1],"labels":false,"ticks":false,"title":null,"gridWidth":{"condition":{"test":"(datum.value*4)%1!=0","value":0.55},"value":1.2}}},
    "y":{"field":"y","type":"quantitative","scale":{"domain":[0.86,3.93],"nice":false,"zero":false},"axis":{"values":[1,1.5,2,2.5,3,3.5],"labelExpr":"datum.value%1!=0 ? '' : format(datum.value,'d')","tickOpacity":{"condition":{"test":"datum.value%1!=0","value":0},"value":1},"title":"Concurrent MLUw","gridWidth":{"condition":{"test":"datum.value%1!=0","value":0.55},"value":1.2}}},
    "color":{"field":"grp","type":"nominal","scale":{"domain":["A","B"],"range":["#E41A1C","#377EB8"]},"legend":null}},
   "layer":[
    {"data":{"name":"pts"},"transform":[{"filter":"datum.run==1 && datum.type=='Pronoun'"}],"mark":{"type":"circle","size":11,"opacity":0.45}},
    {"data":{"name":"fit"},"transform":[{"filter":"datum.run==1 && datum.type=='Pronoun'"}],"mark":{"type":"line","strokeWidth":2.3,"interpolate":"monotone"}}
   ]},
  {"hconcat":[
   {"width":290,"height":120,
    "encoding":{
     "x":{"field":"x","type":"quantitative","scale":{"domain":[-0.074,1.074],"nice":false,"zero":false},"axis":{"values":[0,0.125,0.25,0.375,0.5,0.625,0.75,0.875,1],"labels":false,"ticks":false,"title":null,"gridWidth":{"condition":{"test":"(datum.value*4)%1!=0","value":0.55},"value":1.2}}},
     "y":{"field":"y","type":"quantitative","scale":{"domain":[0.86,3.93],"nice":false,"zero":false},"axis":{"values":[1,1.5,2,2.5,3,3.5],"labels":false,"ticks":false,"title":null,"gridWidth":{"condition":{"test":"datum.value%1!=0","value":0.55},"value":1.2}}},
     "color":{"field":"grp","type":"nominal","scale":{"domain":["A","B"],"range":["#E41A1C","#377EB8"]},"legend":null}},
    "layer":[
     {"data":{"name":"pts"},"transform":[{"filter":"datum.run==2 && datum.type=='Pronoun'"}],"mark":{"type":"circle","size":11,"opacity":0.45}},
     {"data":{"name":"fit"},"transform":[{"filter":"datum.run==2 && datum.type=='Pronoun'"}],"mark":{"type":"line","strokeWidth":2.3,"interpolate":"monotone"}}
    ]},
   {"data":{"name":"strips"},"transform":[{"filter":"datum.pos=='row2'"}],"width":24,"height":120,"view":{"fill":"#D9D9D9","stroke":null},"mark":{"type":"text","fontSize":12,"color":"#1A1A1A","angle":90},"encoding":{"text":{"field":"label"}}}
  ],"spacing":2}
],"spacing":9},
{"vconcat":[
 {"hconcat":[
  {"width":290,"height":120,
   "encoding":{
    "x":{"field":"x","type":"quantitative","scale":{"domain":[-0.074,1.074],"nice":false,"zero":false},"axis":{"values":[0,0.125,0.25,0.375,0.5,0.625,0.75,0.875,1],"labelExpr":"(datum.value*4)%1!=0 ? '' : format(datum.value,'.2f')","tickOpacity":{"condition":{"test":"(datum.value*4)%1!=0","value":0},"value":1},"title":null,"gridWidth":{"condition":{"test":"(datum.value*4)%1!=0","value":0.55},"value":1.2}}},
    "y":{"field":"y","type":"quantitative","scale":{"domain":[0.86,3.93],"nice":false,"zero":false},"axis":{"values":[1,1.5,2,2.5,3,3.5],"labelExpr":"datum.value%1!=0 ? '' : format(datum.value,'d')","tickOpacity":{"condition":{"test":"datum.value%1!=0","value":0},"value":1},"title":null,"gridWidth":{"condition":{"test":"datum.value%1!=0","value":0.55},"value":1.2}}},
    "color":{"field":"grp","type":"nominal","scale":{"domain":["A","B"],"range":["#E41A1C","#377EB8"]},"legend":null}},
   "layer":[
    {"data":{"name":"pts"},"transform":[{"filter":"datum.run==1 && datum.type=='Sum'"}],"mark":{"type":"circle","size":11,"opacity":0.45}},
    {"data":{"name":"fit"},"transform":[{"filter":"datum.run==1 && datum.type=='Sum'"}],"mark":{"type":"line","strokeWidth":2.3,"interpolate":"monotone"}}
   ]},
  {"hconcat":[
   {"width":290,"height":120,
    "encoding":{
     "x":{"field":"x","type":"quantitative","scale":{"domain":[-0.074,1.074],"nice":false,"zero":false},"axis":{"values":[0,0.125,0.25,0.375,0.5,0.625,0.75,0.875,1],"labelExpr":"(datum.value*4)%1!=0 ? '' : format(datum.value,'.2f')","tickOpacity":{"condition":{"test":"(datum.value*4)%1!=0","value":0},"value":1},"title":null,"gridWidth":{"condition":{"test":"(datum.value*4)%1!=0","value":0.55},"value":1.2}}},
     "y":{"field":"y","type":"quantitative","scale":{"domain":[0.86,3.93],"nice":false,"zero":false},"axis":{"values":[1,1.5,2,2.5,3,3.5],"labels":false,"ticks":false,"title":null,"gridWidth":{"condition":{"test":"datum.value%1!=0","value":0.55},"value":1.2}}},
     "color":{"field":"grp","type":"nominal","scale":{"domain":["A","B"],"range":["#E41A1C","#377EB8"]},"legend":null}},
    "layer":[
     {"data":{"name":"pts"},"transform":[{"filter":"datum.run==2 && datum.type=='Sum'"}],"mark":{"type":"circle","size":11,"opacity":0.45}},
     {"data":{"name":"fit"},"transform":[{"filter":"datum.run==2 && datum.type=='Sum'"}],"mark":{"type":"line","strokeWidth":2.3,"interpolate":"monotone"}}
    ]},
   {"data":{"name":"strips"},"transform":[{"filter":"datum.pos=='row3'"}],"width":24,"height":120,"view":{"fill":"#D9D9D9","stroke":null},"mark":{"type":"text","fontSize":12,"color":"#1A1A1A","angle":90},"encoding":{"text":{"field":"label"}}}
  ],"spacing":2}
 ],"spacing":9},
 {"data":{"name":"strips"},"transform":[{"filter":"datum.pos=='xtitle'"}],"width":590,"height":12,"view":{"fill":"#FFFFFF","stroke":null},"mark":{"type":"text","fontSize":15,"color":"#000000"},"encoding":{"text":{"field":"label"}}}
],"spacing":3}
],
"spacing":7
}
